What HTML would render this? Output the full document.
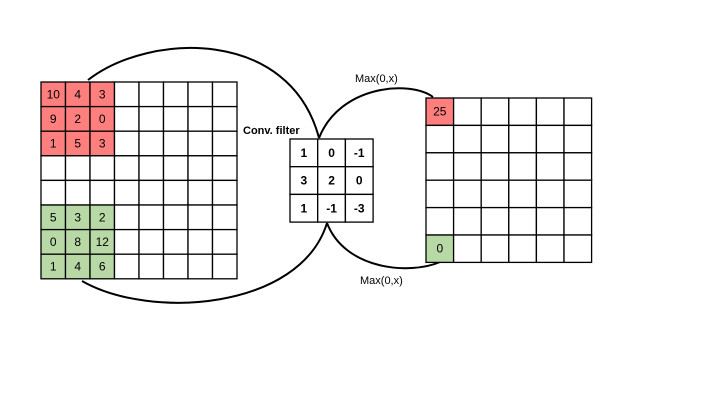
<!DOCTYPE html>
<html><head><meta charset="utf-8"><style>
html,body{margin:0;padding:0;background:#fff;}
svg{display:block;font-family:"Liberation Sans",sans-serif;}
</style></head><body>
<svg width="720" height="405" viewBox="0 0 720 405">
<g fill="none" stroke="#000" stroke-width="2">
<path d="M88,80 C150,32 290,28 319,138"/>
<path d="M319,138 C340,85 410,80 433,97"/>
<path d="M327,223 C345,270 410,275 440,262"/>
<path d="M82,281 C150,320 300,310 327,223"/>
</g>
<g id="grids"></g>
<text x="243" y="134" font-size="11" font-weight="bold">Conv. filter</text>
<text x="355" y="82" font-size="11">Max(0,x)</text>
<text x="360" y="284" font-size="11">Max(0,x)</text>
</svg>
<script>
const inputRed=[["10","4","3"],["9","2","0"],["1","5","3"]];
const inputGreen=[["5","3","2"],["0","8","12"],["1","4","6"]];
const filterVals=[["1","0","-1"],["3","2","0"],["1","-1","-3"]];
const outTop="25", outBottom="0";
const NS="http://www.w3.org/2000/svg";
const g=document.getElementById('grids');
function grid(name,x0,y0,w,h,n,m,cellFn,bold){
  const grp=document.createElementNS(NS,'g');
  
  
  for(let r=0;r<n;r++)for(let c=0;c<m;c++){
    const info=cellFn(r,c);
    const rect=document.createElementNS(NS,'rect');
    rect.setAttribute('x',x0+c*w);rect.setAttribute('y',y0+r*h);
    rect.setAttribute('width',w);rect.setAttribute('height',h);
    rect.setAttribute('fill',info.fill||'#fff');rect.setAttribute('stroke','#000');rect.setAttribute('stroke-width','1.3');
    
    
    grp.appendChild(rect);
    if(info.text!==undefined){
      const t=document.createElementNS(NS,'text');
      t.setAttribute('x',x0+c*w+w/2);t.setAttribute('y',y0+r*h+h/2+4);
      t.setAttribute('text-anchor','middle');t.setAttribute('font-size','12');
      if(bold)t.setAttribute('font-weight','bold');
      t.textContent=info.text;
      
      
      grp.appendChild(t);
    }
  }
  g.appendChild(grp);
}
grid('input-grid',41,82,24.5,24.6,8,8,(r,c)=>{
  if(c<3&&r<3)return{fill:'#ff7f7f',text:inputRed[r][c]};
  if(c<3&&r>=5)return{fill:'#b8d8a6',text:inputGreen[r-5][c]};
  return{};
});
grid('filter-grid',290,139,27.7,27.7,3,3,(r,c)=>({text:filterVals[r][c]}),true);
grid('output-grid',426,98,27.6,27.4,6,6,(r,c)=>{
  if(r==0&&c==0)return{fill:'#ff7f7f',text:outTop};
  if(r==5&&c==0)return{fill:'#b8d8a6',text:outBottom};
  return{};
});
</script>
</body></html>
